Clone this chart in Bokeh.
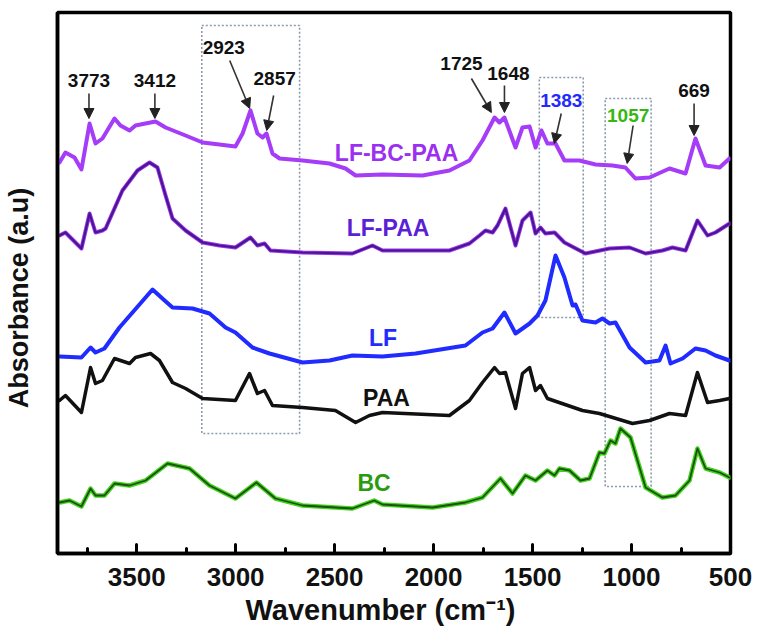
from bokeh.plotting import figure
from bokeh.models import Range1d, FixedTicker, Arrow, NormalHead, ColumnDataSource, Title
from bokeh.core.properties import value
from bokeh.embed import file_html
from bokeh.resources import INLINE

# ---------------- data (wavenumber cm-1, absorbance a.u. offset traces) ----------------
lfbcpaa_x = [3890, 3860, 3814, 3779, 3738, 3708, 3673, 3612, 3582, 3536, 3506, 3405, 3354, 3253, 3167,
             3082, 3001, 2965, 2925, 2890, 2864, 2844, 2814, 2778, 2662, 2526, 2445, 2394, 2258, 2056,
             1920, 1819, 1753, 1692, 1667, 1642, 1586, 1551, 1515, 1485, 1455, 1425, 1384, 1339, 1263,
             1182, 1096, 1031, 980, 909, 808, 727, 677, 626, 555, 505]
lfbcpaa_y = [391, 401, 396, 384, 430, 410, 415, 435, 428, 423, 428, 432, 426, 418, 411,
             409, 407, 420, 443, 420, 416, 420, 400, 395, 393, 390, 385, 378, 379, 378,
             383, 393, 413, 436, 431, 436, 406, 426, 427, 406, 423, 410, 410, 393, 393,
             389, 388, 386, 375, 376, 385, 380, 415, 388, 386, 395]

lfpaa_x = [3890, 3860, 3779, 3738, 3708, 3673, 3657, 3572, 3496, 3435, 3395, 3354, 3319, 3253, 3167,
           3082, 3001, 2925, 2890, 2854, 2824, 2662, 2410, 2309, 2258, 1920, 1819, 1768, 1738, 1702,
           1677, 1637, 1611, 1586, 1551, 1510, 1485, 1460, 1435, 1389, 1339, 1233, 1111, 1010, 929,
           844, 793, 727, 667, 616, 576, 505]
lfpaa_y = [318, 321, 305, 340, 321, 323, 325, 363, 383, 391, 386, 358, 335, 323, 311,
           308, 306, 316, 308, 310, 303, 301, 300, 308, 303, 303, 310, 318, 323, 321,
           328, 345, 326, 308, 333, 341, 320, 326, 320, 321, 311, 300, 305, 306, 300,
           303, 306, 303, 333, 318, 321, 330]

lf_x = [3890, 3779, 3733, 3708, 3663, 3587, 3420, 3370, 3319, 3218, 3132, 3051, 3001, 2915, 2829,
        2662, 2526, 2410, 2258, 2091, 1839, 1753, 1702, 1642, 1586, 1515, 1475, 1435, 1384, 1339,
        1298, 1283, 1248, 1182, 1147, 1111, 1081, 1010, 929, 859, 828, 803, 742, 677, 626, 576, 505]
lf_y = [197, 196, 206, 201, 205, 226, 264, 255, 246, 245, 240, 226, 221, 206, 200,
        191, 193, 198, 197, 200, 208, 221, 225, 241, 220, 230, 238, 253, 298, 276,
        248, 249, 233, 231, 235, 230, 231, 206, 191, 193, 208, 190, 195, 205, 203, 198, 193]

paa_x = [3890, 3860, 3779, 3733, 3708, 3673, 3612, 3536, 3506, 3430, 3385, 3319, 3253, 3167, 3001,
         2930, 2890, 2854, 2814, 2662, 2496, 2394, 2324, 2258, 1920, 1819, 1753, 1692, 1667, 1637,
         1586, 1551, 1515, 1485, 1460, 1425, 1248, 1162, 995, 909, 808, 727, 667, 616, 555, 505]
paa_y = [153, 158, 141, 186, 170, 173, 195, 190, 196, 200, 193, 171, 165, 155, 153,
         180, 160, 163, 148, 146, 143, 131, 138, 141, 138, 153, 171, 186, 180, 181,
         145, 180, 186, 163, 168, 155, 143, 140, 130, 133, 140, 138, 181, 151, 153, 155]

bc_x = [3890, 3839, 3779, 3733, 3708, 3663, 3612, 3536, 3455, 3344, 3233, 3132, 3001, 2895, 2799,
        2662, 2410, 2300, 2258, 2005, 1839, 1753, 1662, 1601, 1536, 1485, 1425, 1389, 1364, 1313,
        1258, 1212, 1162, 1137, 1106, 1081, 1056, 1005, 929, 844, 778, 707, 667, 626, 555, 505]
bc_y = [51, 53, 47, 65, 58, 58, 70, 68, 73, 90, 85, 68, 55, 71, 55,
        48, 45, 53, 49, 46, 51, 56, 75, 60, 78, 73, 83, 78, 85, 83,
        73, 75, 101, 100, 113, 110, 125, 116, 66, 56, 58, 73, 105, 85, 81, 76]

series_names = ["LF-BC-PAA", "LF-PAA", "LF", "PAA", "BC"]
series_label_x = [2187, 2230, 2255, 2238, 2301]
series_label_y = [401, 326, 216, 156, 71]
series_label_colors = ["#9b30f0", "#5a1fd6", "#1f2bff", "#111111", "#2a9a10"]

peak_labels = ["3773", "3412", "2923", "2857", "1725", "1648", "1383", "1057", "669"]
peak_label_x = [3741, 3408, 3060, 2803, 1859, 1622, 1355, 1017, 684]
peak_label_y = [473, 473, 506, 475, 490, 480, 453, 438, 463]
peak_colors = ["#111111"] * 6 + ["#1f2bff", "#33b811", "#111111"]
arrow_x0 = [3741, 3408, 3030, 2808, 1809, 1642, 1355, 992, 684]
arrow_y0 = [460, 460, 493, 458, 475, 468, 440, 428, 450]
arrow_x1 = [3741, 3408, 2929, 2843, 1708, 1642, 1390, 1022, 684]
arrow_y1 = [435, 435, 445, 423, 441, 441, 410, 390, 418]

box_left = [3171, 1466, 1133]
box_right = [2677, 1244, 901]
box_top = [528, 476, 455]
box_bottom = [120, 236, 67]

x_ticks = [500, 1000, 1500, 2000, 2500, 3000, 3500]
x_minor = [750, 1250, 1750, 2250, 2750, 3250, 3750]

FONT = "Liberation Sans"

# ---------------- figure ----------------
p = figure(width=752, height=634, x_range=Range1d(3900, 500), y_range=Range1d(0, 541),
           output_backend="svg", toolbar_location=None,
           min_border_left=55, min_border_right=22, min_border_top=12, min_border_bottom=81)
p.grid.visible = False
p.outline_line_color = "black"
p.outline_line_width = 3.5
p.background_fill_color = "white"

xa = p.xaxis[0]
xa.ticker = FixedTicker(ticks=x_ticks, minor_ticks=x_minor)
xa.major_tick_in = 9
xa.major_tick_out = 0
xa.minor_tick_in = 5
xa.minor_tick_out = 0
xa.major_tick_line_width = 3
xa.minor_tick_line_width = 3
xa.major_tick_line_cap = "round"
xa.minor_tick_line_cap = "round"
xa.axis_line_width = 3.5
xa.major_label_text_font = FONT
xa.major_label_text_font_style = "bold"
xa.major_label_text_font_size = "26px"
xa.major_label_text_color = "#111111"
xa.major_label_standoff = 14

ya = p.yaxis[0]
ya.ticker = FixedTicker(ticks=[])
ya.major_tick_line_color = None
ya.minor_tick_line_color = None
ya.major_label_text_font_size = "0px"
ya.axis_line_width = 3.5
ya.axis_label = "Absorbance (a.u)" + "\u00a0" * 4
ya.axis_label_text_font = FONT
ya.axis_label_text_font_style = "bold"
ya.axis_label_text_font_size = "27px"
ya.axis_label_text_color = "#111111"
ya.axis_label_standoff = 24

# x-axis title as a side title so it can be offset like in the original
p.add_layout(Title(text="Wavenumber (cm⁻¹)", align="left", offset=188, standoff=7,
                   text_font=FONT, text_font_style="bold", text_font_size="29px",
                   text_color="#111111"), "below")

# dotted boxes
p.quad(left=box_left, right=box_right, top=box_top, bottom=box_bottom, fill_color=None,
       line_color="#8a9aaa", line_width=1.6, line_dash="2 2")

# spectra
kw = dict(line_join="round", line_cap="round")
p.line(bc_x, bc_y, line_color="#3fd41a", line_width=4.5, **kw)
p.line(bc_x, bc_y, line_color="#1f4f12", line_width=1.8, **kw)
p.line(paa_x, paa_y, line_color="#111111", line_width=3.5, **kw)
p.line(lf_x, lf_y, line_color="#1f2bff", line_width=4, **kw)
p.line(lfpaa_x, lfpaa_y, line_color="#9b35f0", line_width=4, **kw)
p.line(lfpaa_x, lfpaa_y, line_color="#4a1690", line_width=2.2, **kw)
p.line(lfbcpaa_x, lfbcpaa_y, line_color="#a53cf7", line_width=4, **kw)

# series labels
p.text(x=series_label_x, y=series_label_y, text=series_names, text_color=series_label_colors,
       text_font=value(FONT), text_font_style="bold", text_font_size="23px",
       text_align="center", text_baseline="middle")

# peak labels and arrows
p.text(x=peak_label_x, y=peak_label_y, text=peak_labels, text_color=peak_colors,
       text_font=value(FONT), text_font_style="bold", text_font_size="19px",
       text_align="center", text_baseline="middle")
asrc = ColumnDataSource(dict(x0=arrow_x0, y0=arrow_y0, x1=arrow_x1, y1=arrow_y1))
p.add_layout(Arrow(x_start="x0", y_start="y0", x_end="x1", y_end="y1", source=asrc,
                   line_color="#333333", line_width=1.6,
                   end=NormalHead(size=10, fill_color="#222222", line_color="#222222", line_width=1)))

open("out.html", "w").write(file_html(p, INLINE))
